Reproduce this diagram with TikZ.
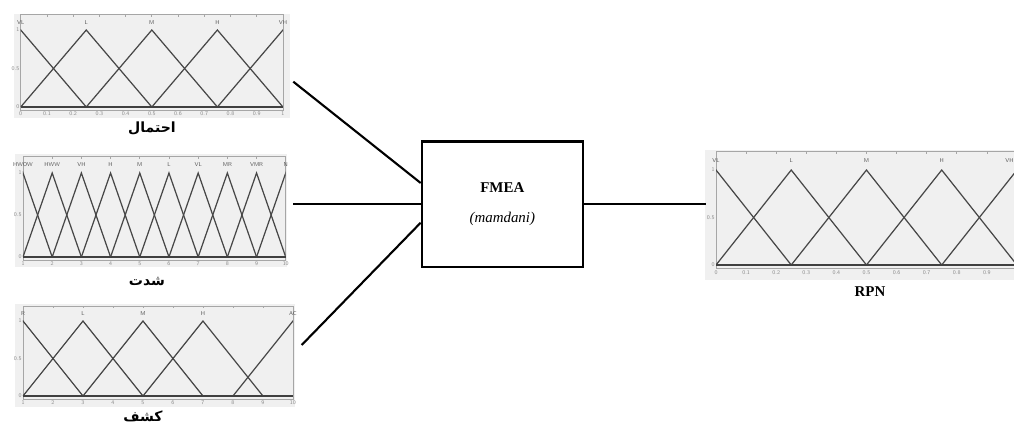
\documentclass[tikz,border=0pt]{standalone}
\usepackage{fontspec}
\setmainfont{Liberation Serif}
\newfontfamily\arabicfont[Script=Arabic]{DejaVu Sans}
\TeXXeTstate=1
\usetikzlibrary{positioning}

\begin{document}
\begin{tikzpicture}[x=0.02cm, y=0.02cm,
  plotbg/.style={fill=black!6, draw=none},
  axbox/.style={draw=black!35, line width=0.4pt},
  mf/.style={draw=black!72, line width=0.7pt},
  zeroline/.style={draw=black!75, line width=1.1pt},
  setlbl/.style={font=\fontsize{3.2}{3.5}\selectfont\sffamily, text=black!65, inner sep=0},
  ticklbl/.style={font=\fontsize{3.2}{3.5}\selectfont\sffamily, text=black!45, inner sep=0},
  ptitle/.style={font=\arabicfont\bfseries\fontsize{8}{9}\selectfont, inner sep=1pt},
  ntitle/.style={font=\bfseries\fontsize{8.5}{10}\selectfont, inner sep=1pt},
  fmeaN/.style={draw, line width=1.3pt, minimum width=3.22cm, minimum height=2.51cm,
                align=center, font=\fontsize{8.5}{10}\selectfont},
  link/.style={line width=1.2pt, -}
]
\useasboundingbox (0,0) rectangle (1014,425);
% Likelihood plot
\fill[plotbg] (14,307) rectangle (290,411);
\begin{scope}[shift={(20.7,318)}, x=5.246cm, y=1.54cm]
  \draw[axbox] (0,-0.04) rectangle (1,1.2);
  \foreach \t in {0,0.1,0.2,0.3,0.4,0.5,0.6,0.7,0.8,0.9,1} {
    \draw[axbox] (\t,1.2) -- (\t,1.17);
    \node[ticklbl, below=0.8pt] at (\t,-0.04) {\t};
  }
  \foreach \v in {0,0.5,1} \node[ticklbl, left=0.6pt] at (0,\v) {\v};
  \begin{scope}
    \clip (0,-0.1) rectangle (1,1.2);
    \foreach \a/\b/\c in {-0.25/0/0.25, 0/0.25/0.5, 0.25/0.5/0.75, 0.5/0.75/1, 0.75/1/1.25}
      \draw[mf] (\a,0) -- (\b,1) -- (\c,0);
  \end{scope}
  \draw[zeroline] (0,0) -- (1,0);
  \foreach \b/\l in {0/VL, 0.25/L, 0.5/M, 0.75/H, 1/VH}
    \node[setlbl] at (\b,1.1) {\l};
\end{scope}
\node[ptitle] (t1) at (152,297) {\beginR احتمال\endR};
\coordinate (in1) at (293.3,343.3);
% Severity plot
\fill[plotbg] (15,158) rectangle (287,271);
\begin{scope}[shift={(-6.2,168)}, x=0.584cm, y=1.68cm]
  \draw[axbox] (1,-0.04) rectangle (10,1.2);
  \foreach \t in {1,...,10} {
    \draw[axbox] (\t,1.2) -- (\t,1.17);
    \node[ticklbl, below=0.8pt] at (\t,-0.04) {\t};
  }
  \foreach \v in {0,0.5,1} \node[ticklbl, left=0.6pt] at (1,\v) {\v};
  \begin{scope}
    \clip (1,-0.1) rectangle (10,1.2);
    \foreach \b in {1,...,10}
      \draw[mf] (\b-1,0) -- (\b,1) -- (\b+1,0);
  \end{scope}
  \draw[zeroline] (1,0) -- (10,0);
  \foreach \b/\l in {1/HWOW, 2/HWW, 3/VH, 4/H, 5/M, 6/L, 7/VL, 8/MR, 9/VMR, 10/N}
    \node[setlbl] at (\b,1.1) {\l};
\end{scope}
\node[ptitle] (t2) at (147,143) {\beginR شدت\endR};
\coordinate (in2) at (293,220.7);
% Detection plot
\fill[plotbg] (15,18) rectangle (295,121);
\begin{scope}[shift={(-7,29)}, x=0.6cm, y=1.5cm]
  \draw[axbox] (1,-0.04) rectangle (10,1.2);
  \foreach \t in {1,...,10} {
    \draw[axbox] (\t,1.2) -- (\t,1.17);
    \node[ticklbl, below=0.8pt] at (\t,-0.04) {\t};
  }
  \foreach \v in {0,0.5,1} \node[ticklbl, left=0.6pt] at (1,\v) {\v};
  \begin{scope}
    \clip (1,-0.1) rectangle (10,1.2);
    \foreach \a/\b/\c in {-1/1/3, 1/3/5, 3/5/7, 5/7/9, 8/10/12}
      \draw[mf] (\a,0) -- (\b,1) -- (\c,0);
  \end{scope}
  \draw[zeroline] (1,0) -- (10,0);
  \foreach \b/\l in {1/R, 3/L, 5/M, 7/H, 10/AC}
    \node[setlbl] at (\b,1.1) {\l};
\end{scope}
\node[ptitle, anchor=south] (t3) at (143,1) {\beginR کشف\endR};
\coordinate (in3) at (301.7,80);
% Output plot
\fill[plotbg] (705,145) rectangle (1020,275);
\begin{scope}[shift={(716,160)}, x=6.02cm, y=1.9cm]
  \draw[axbox] (0,-0.04) rectangle (1,1.2);
  \foreach \t in {0,0.1,0.2,0.3,0.4,0.5,0.6,0.7,0.8,0.9} {
    \draw[axbox] (\t,1.2) -- (\t,1.17);
    \node[ticklbl, below=0.8pt] at (\t,-0.04) {\t};
  }
  \foreach \v in {0,0.5,1} \node[ticklbl, left=0.6pt] at (0,\v) {\v};
  \begin{scope}
    \clip (0,-0.1) rectangle (1,1.2);
    \foreach \a/\b/\c in {-0.25/0/0.25, 0/0.25/0.5, 0.25/0.5/0.75, 0.5/0.75/1, 0.75/1/1.25}
      \draw[mf] (\a,0) -- (\b,1) -- (\c,0);
  \end{scope}
  \draw[zeroline] (0,0) -- (1,0);
  \foreach \b/\l in {0/VL, 0.25/L, 0.5/M, 0.75/H}
    \node[setlbl] at (\b,1.1) {\l};
  \node[setlbl, anchor=east] at (0.99,1.1) {VH};
\end{scope}
\node[ntitle] (t4) at (870,133) {RPN};
\coordinate (out) at (706,220.7);
% Inference block
\node[fmeaN] (fmea) at (502.3,220.7) {\textbf{FMEA}\\[7pt]\textit{(mamdani)}};
% Links
\draw[link] (in1) -- ([yshift=0.426cm]fmea.west);
\draw[link] (in2) -- (fmea.west);
\draw[link] (in3) -- ([yshift=-0.368cm]fmea.west);
\draw[link] (fmea.east) -- (out);
\end{tikzpicture}
\end{document}
